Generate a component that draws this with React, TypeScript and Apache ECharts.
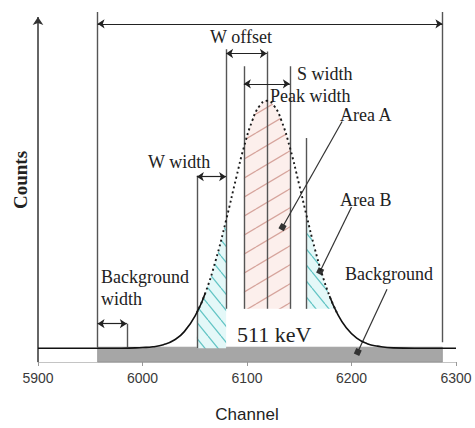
import { useEffect, useRef } from 'react';
import * as echarts from 'echarts';

// Spectrum curve (channel, counts in arbitrary units)
const channels = [5900, 5950, 5980, 6000, 6010, 6020, 6030, 6040, 6052, 6060, 6070, 6080, 6090, 6097, 6105, 6112, 6119, 6126, 6133, 6141, 6150, 6157, 6165, 6172, 6179, 6186, 6195, 6205, 6215, 6225, 6240, 6260, 6300];
const counts = [4.0, 4.0, 4.0, 4.2, 4.4, 5.0, 6.3, 8.8, 14.3, 19.9, 29.4, 41.1, 53.8, 62.2, 69.9, 74.2, 75.7, 74.2, 69.9, 62.2, 51.3, 42.4, 32.7, 25.3, 19.1, 14.3, 9.9, 6.9, 5.3, 4.6, 4.1, 4.0, 4.0];
const xTicks = [5900, 6000, 6100, 6200, 6300];
const yMax = 102;
const yArrowTop = 100;

const areaARange = [6097, 6141];
const areaBLeftRange = [6052, 6080];
const areaBRightRange = [6157, 6186];
const dottedRange = [6052, 6186];
const solidLeftEnd = 6060;
const solidRightStart = 6179;
const backgroundRange = [5957, 6287];
const backgroundLevel = 4;
const backgroundBoxTop = 4.3;
const hatchFloor = 15.4;

// vertical marker lines: [channel, fromCount, toCount]
const markerLines = [
  [5957, 4.3, 101.4],
  [6287, 5.7, 101.4],
  [6052, 4, 54],
  [6080, 15.4, 90.6],
  [6097, 15.4, 85.7],
  [6119, 15.4, 90],
  [6141, 15.4, 85.7],
  [6157, 15.4, 64.9],
  [5985, 4.3, 11.1],
];
// double-headed width arrows: [fromChannel, toChannel, level]
const widthArrows = [
  [5957, 6287, 98],
  [6080, 6119, 89.4],
  [6097, 6141, 80.6],
  [6052, 6080, 53.7],
  [5957, 5985, 11.1],
];
// label pointers: [fromChannel, fromCount, toChannel, toCount]
const pointers = [
  [6191, 69.7, 6134, 39.1],
  [6200, 44.9, 6170, 26.3],
  [6234, 21.1, 6206, 2.9],
];

const labelTexts = ['W offset', 'S width', 'Peak width', 'Area A', 'Area B', 'W width', 'Background', 'width', 'Background', '511 keV'];

function pick(lo: number, hi: number) {
  const out: number[][] = [];
  channels.forEach((c, i) => {
    if (c >= lo && c <= hi) out.push([c, counts[i]]);
  });
  return out;
}

function hatch(bg: string, line: string, w: number, h: number, dir: string) {
  const c = document.createElement('canvas');
  c.width = w;
  c.height = h;
  const ctx = c.getContext('2d')!;
  ctx.fillStyle = bg;
  ctx.fillRect(0, 0, w, h);
  ctx.strokeStyle = line;
  ctx.lineWidth = 1.3;
  for (const dy of [-h, 0, h]) {
    ctx.beginPath();
    if (dir === '/') {
      ctx.moveTo(0, h + dy);
      ctx.lineTo(w, dy);
    } else {
      ctx.moveTo(0, dy);
      ctx.lineTo(w, h + dy);
    }
    ctx.stroke();
  }
  return { image: c, repeat: 'repeat', imageWidth: w, imageHeight: h } as any;
}

export default function App() {
  const ref = useRef<HTMLDivElement>(null);
  useEffect(() => {
    const chart = echarts.init(ref.current!, null, { renderer: 'svg' });
    const pink = hatch('#fcefec', '#d6a49c', 32, 19, '/');
    const cyan = hatch('#e4f8f8', '#62c4c4', 13, 16, '\\');
    const serif = 'Liberation Serif';
    const txt = (text: string, x: number, y: number, size = 18, align = 'left') => ({
      type: 'text',
      x,
      y,
      silent: true,
      z: 50,
      style: { text, fill: '#222', font: `${size}px "${serif}"`, align, verticalAlign: 'middle' },
    });
    const noLabel = { show: false };
    const areaSeries = (data: number[][], color: any, origin: number) => ({
      type: 'line',
      data,
      smooth: true,
      showSymbol: false,
      symbol: 'none',
      silent: true,
      lineStyle: { width: 0, opacity: 0 },
      areaStyle: { color, opacity: 1, origin },
      z: 1,
    });
    chart.setOption({
      animation: false,
      grid: { left: 38, right: 19, top: 10, bottom: 61 },
      xAxis: {
        type: 'value',
        min: xTicks[0],
        max: xTicks[xTicks.length - 1],
        interval: 100,
        name: 'Channel',
        nameLocation: 'middle',
        nameGap: 44,
        nameTextStyle: { fontSize: 17, fontFamily: 'Liberation Sans', color: '#222' },
        axisLine: { lineStyle: { color: '#c4c4c4', width: 1 } },
        axisTick: { show: true, length: 4, lineStyle: { color: '#999' } },
        axisLabel: { fontSize: 14, fontFamily: 'Liberation Sans', color: '#3a3a3a', margin: 9, formatter: (v: number) => String(v) },
        splitLine: { show: false },
      },
      yAxis: {
        type: 'value',
        min: 0,
        max: yMax,
        axisLine: { show: false },
        axisTick: { show: false },
        axisLabel: { show: false },
        splitLine: { show: false },
      },
      series: [
        areaSeries(pick(areaARange[0], areaARange[1]), pink, hatchFloor),
        areaSeries(pick(areaBLeftRange[0], areaBLeftRange[1]), cyan, backgroundLevel),
        areaSeries(pick(areaBRightRange[0], areaBRightRange[1]), cyan, hatchFloor),
        {
          type: 'line',
          data: pick(channels[0], solidLeftEnd),
          smooth: true,
          symbol: 'none',
          silent: true,
          z: 5,
          lineStyle: { color: '#111', width: 1.6 },
          markArea: {
            silent: true,
            itemStyle: { color: '#a6a6a6', borderColor: '#8a8a8a', borderWidth: 0.6 },
            label: noLabel,
            data: [[{ coord: [backgroundRange[0], 0] }, { coord: [backgroundRange[1], backgroundBoxTop] }]],
          },
        },
        {
          type: 'line',
          data: pick(solidRightStart, channels[channels.length - 1]),
          smooth: true,
          symbol: 'none',
          silent: true,
          z: 5,
          lineStyle: { color: '#111', width: 1.6 },
        },
        {
          type: 'line',
          data: pick(dottedRange[0], dottedRange[1]),
          smooth: true,
          symbol: 'none',
          silent: true,
          z: 5,
          lineStyle: { color: '#1a1a1a', width: 1.9, type: [2, 3] },
        },
        {
          type: 'line',
          data: [],
          clip: false,
          silent: true,
          z: 6,
          markLine: {
            silent: true,
            symbol: ['none', 'none'],
            label: noLabel,
            lineStyle: { color: '#555', width: 1.4, type: 'solid' },
            emphasis: { disabled: true },
            data: markerLines.map(([c, a, b]) => [{ coord: [c, a] }, { coord: [c, b] }]),
          },
        },
        {
          type: 'line',
          data: [],
          clip: false,
          silent: true,
          z: 7,
          markLine: {
            silent: true,
            symbol: ['arrow', 'arrow'],
            symbolSize: 7,
            label: noLabel,
            lineStyle: { color: '#222', width: 1.2, type: 'solid' },
            emphasis: { disabled: true },
            data: widthArrows.map(([a, b, v]) => [{ coord: [a, v] }, { coord: [b, v] }]),
          },
        },
        {
          type: 'line',
          data: [],
          clip: false,
          silent: true,
          z: 7,
          markLine: {
            silent: true,
            symbol: ['none', 'arrow'],
            symbolSize: 8,
            label: noLabel,
            lineStyle: { color: '#333', width: 1.5, type: 'solid' },
            emphasis: { disabled: true },
            data: [[{ coord: [xTicks[0], 0] }, { coord: [xTicks[0], yArrowTop] }]],
          },
        },
        {
          type: 'line',
          data: [],
          clip: false,
          silent: true,
          z: 8,
          markLine: {
            silent: true,
            symbol: ['none', 'rect'],
            symbolSize: 6,
            label: noLabel,
            itemStyle: { color: '#111' },
            lineStyle: { color: '#333', width: 1.2, type: 'solid' },
            emphasis: { disabled: true },
            data: pointers.map(([a, av, b, bv]) => [{ coord: [a, av] }, { coord: [b, bv] }]),
          },
        },
      ],
      graphic: [
        txt(labelTexts[0], 241, 37, 18, 'center'),
        txt(labelTexts[1], 297, 74),
        txt(labelTexts[2], 270, 96),
        txt(labelTexts[3], 340, 115),
        txt(labelTexts[4], 340, 200),
        txt(labelTexts[5], 148, 162),
        txt(labelTexts[6], 101, 277),
        txt(labelTexts[7], 101, 299),
        txt(labelTexts[8], 345, 274),
        txt(labelTexts[9], 237, 334, 22),
        {
          type: 'text',
          x: 20,
          y: 180,
          rotation: Math.PI / 2,
          silent: true,
          style: { text: 'Counts', fill: '#222', font: `bold 19px "${serif}"`, align: 'center', verticalAlign: 'middle' },
        },
      ],
    });
    return () => chart.dispose();
  }, []);
  return <div ref={ref} style={{ width: 475, height: 428, position: 'absolute', left: 0, top: 0 }} />;
}
